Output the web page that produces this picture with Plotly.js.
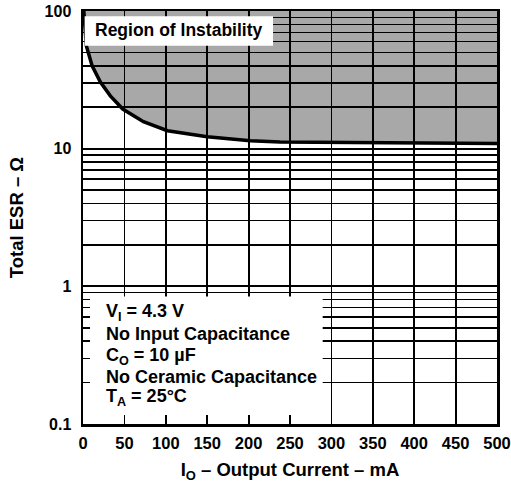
<!DOCTYPE html>
<html>
<head>
<meta charset="utf-8">
<script src="https://cdn.plot.ly/plotly-3.0.1.min.js"></script>
<style>html,body{margin:0;padding:0;background:#fff;}#chart{width:511px;height:484px;}</style>
</head>
<body>
<div id="chart"></div>
<script>
// Boundary of the region of instability (Total ESR vs output current)
const currentMA = [1, 4, 11, 21, 33, 48, 73, 102, 150, 202, 238, 300, 400, 500];
const esrOhm    = [100, 56, 40, 30.5, 24.2, 19.4, 15.7, 13.5, 12.2, 11.4, 11.2, 11.1, 11.0, 10.9];
// Upper edge of the shaded region
const topX = [0, 500];
const topY = [100, 100];
const xTicks = [0, 50, 100, 150, 200, 250, 300, 350, 400, 450, 500];
const yTickVals = [0.1, 1, 10, 100];
const yTickText = ['0.1', '1', '10', '100'];
const yMinor = [0.2,0.3,0.4,0.5,0.6,0.7,0.8,0.9,2,3,4,5,6,7,8,9,20,30,40,50,60,70,80,90];
const conditions = ['V<sub>I</sub> = 4.3 V', 'No Input Capacitance', 'C<sub>O</sub> = 10 µF', 'No Ceramic Capacitance', 'T<sub>A</sub> = 25°C'];

const F = 'Liberation Sans, Arial, Helvetica, sans-serif';

const traces = [
  {x: topX, y: topY, mode: 'lines', line: {width: 0, color: 'rgba(0,0,0,0)'}, hoverinfo: 'skip', showlegend: false},
  {x: currentMA, y: esrOhm, mode: 'lines', line: {color: 'black', width: 3.5},
   fill: 'tonexty', fillcolor: 'rgba(0,0,0,0.34)', showlegend: false}
];

const annotations = [
  {xref: 'x domain', yref: 'y domain', x: 0.024, y: 0.953, xanchor: 'left', yanchor: 'middle', showarrow: false,
   text: '<b>Region of Instability</b>', font: {family: F, size: 17.5, color: 'black'}}
];
const lineY = [0.269, 0.218, 0.163, 0.114, 0.063];
conditions.forEach((t, i) => {
  annotations.push({xref: 'x domain', yref: 'y domain', x: 0.051, y: lineY[i], xanchor: 'left', yanchor: 'middle',
    showarrow: false, text: '<b>' + t + '</b>', font: {family: F, size: 18, color: 'black'}});
});

const layout = {
  width: 511, height: 484,
  margin: {l: 83, r: 14, t: 11, b: 60},
  paper_bgcolor: 'white', plot_bgcolor: 'white',
  font: {family: F, color: 'black'},
  showlegend: false,
  xaxis: {
    range: [0, 500], tickvals: xTicks, ticks: '', showgrid: true, gridcolor: 'black', gridwidth: 1.8,
    zeroline: false, showline: true, mirror: true, linecolor: 'black', linewidth: 2.5,
    tickfont: {family: F, size: 16.5, color: 'black', weight: 'bold'}, ticklabelstandoff: 3,
    title: {text: '<b>I<sub>O</sub> – Output Current – mA</b>', font: {family: F, size: 18.5, color: 'black'}, standoff: 12}
  },
  yaxis: {
    type: 'log', range: [-1, 2], tickvals: yTickVals, ticktext: yTickText, ticks: '',
    showgrid: true, gridcolor: 'black', gridwidth: 1.8,
    minor: {tickvals: yMinor, showgrid: true, gridcolor: 'black', gridwidth: 1.6, ticks: ''},
    zeroline: false, showline: true, mirror: true, linecolor: 'black', linewidth: 2.5,
    tickfont: {family: F, size: 16, color: 'black', weight: 'bold'}, ticklabelstandoff: 6,
    title: {text: '<b>Total ESR – Ω</b>', font: {family: F, size: 18.5, color: 'black'}, standoff: 16}
  },
  shapes: [
    {type: 'rect', xref: 'x domain', yref: 'y domain', x0: 0.004, x1: 0.459, y0: 0.916, y1: 0.987,
     fillcolor: 'white', line: {width: 0}, layer: 'above'},
    {type: 'rect', xref: 'x domain', yref: 'y domain', x0: 0.017, x1: 0.579, y0: 0.022, y1: 0.309,
     fillcolor: 'white', line: {width: 0}, layer: 'above'}
  ],
  annotations: annotations
};

Plotly.newPlot('chart', traces, layout, {displayModeBar: false, staticPlot: true});
</script>
</body>
</html>
